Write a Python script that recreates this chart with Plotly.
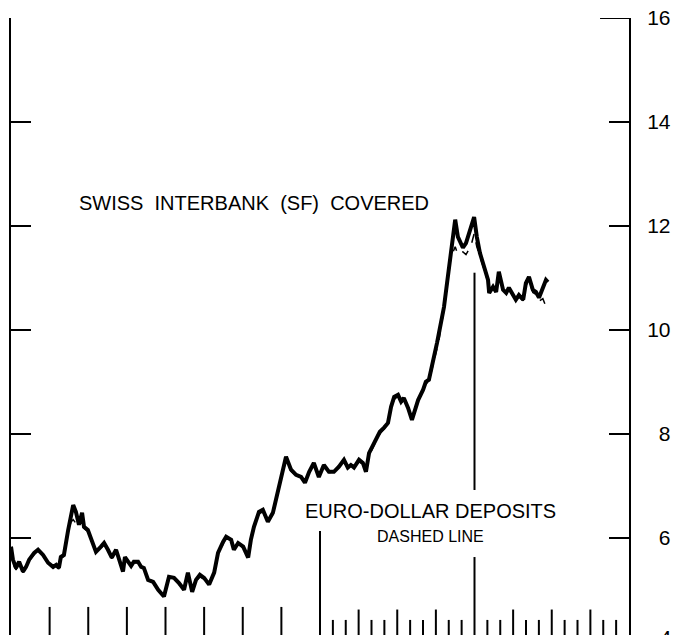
import plotly.graph_objects as go

# time axis: one unit per major (annual) bottom tick
t = [0.00, 0.05, 0.13, 0.21, 0.31, 0.39, 0.47, 0.60, 0.70, 0.83, 0.96, 1.09, 1.17, 1.24, 1.29, 1.37,
     1.48, 1.55, 1.61, 1.68, 1.76, 1.84, 1.89, 1.99, 2.12, 2.20, 2.33, 2.41, 2.51, 2.61, 2.72, 2.80,
     2.90, 2.95, 3.03, 3.11, 3.18, 3.29, 3.37, 3.44, 3.55, 3.68, 3.81, 3.88, 3.96, 4.09, 4.22, 4.35,
     4.48, 4.58, 4.69, 4.79, 4.89, 5.00, 5.13, 5.26, 5.36, 5.49, 5.57, 5.70, 5.77, 5.88, 6.01, 6.14,
     6.21, 6.29, 6.42, 6.52, 6.65, 6.78, 6.86, 6.99, 7.12, 7.25, 7.38, 7.51, 7.61, 7.72, 7.84, 7.97,
     8.10, 8.23, 8.36, 8.49, 8.62, 8.72, 8.80, 8.88, 9.01, 9.11, 9.19, 9.27, 9.37, 9.45, 9.55, 9.66,
     9.76, 9.84, 9.92, 10.02, 10.10, 10.17, 10.28, 10.38, 10.46, 10.54, 10.67, 10.74, 10.82, 10.90,
     10.95, 11.03, 11.08, 11.13, 11.21, 11.31, 11.39, 11.50, 11.57, 11.70, 11.78, 11.91, 11.99, 12.06,
     12.14, 12.25, 12.35, 12.38, 12.48, 12.56, 12.63, 12.74, 12.82, 12.89, 13.00, 13.07, 13.15, 13.26,
     13.33, 13.41, 13.51, 13.59, 13.67, 13.77, 13.85, 13.90]

swiss_covered = [5.83, 5.58, 5.42, 5.54, 5.35, 5.44, 5.58, 5.71, 5.77, 5.67, 5.52, 5.44, 5.48, 5.42, 5.63, 5.67,
                 6.15, 6.40, 6.63, 6.50, 6.25, 6.48, 6.21, 6.15, 5.90, 5.73, 5.83, 5.90, 5.77, 5.62, 5.77, 5.58,
                 5.35, 5.63, 5.54, 5.46, 5.54, 5.54, 5.44, 5.42, 5.19, 5.15, 5.00, 4.94, 4.87, 5.25, 5.23, 5.13,
                 5.00, 5.33, 4.96, 5.19, 5.29, 5.23, 5.10, 5.33, 5.71, 5.92, 6.02, 5.96, 5.77, 5.90, 5.83, 5.62,
                 5.96, 6.21, 6.50, 6.54, 6.31, 6.48, 6.73, 7.17, 7.56, 7.31, 7.21, 7.17, 7.06, 7.27, 7.44, 7.17,
                 7.40, 7.27, 7.27, 7.37, 7.50, 7.35, 7.40, 7.35, 7.50, 7.44, 7.27, 7.63, 7.79, 7.88, 8.04, 8.12,
                 8.21, 8.52, 8.71, 8.75, 8.62, 8.69, 8.50, 8.27, 8.46, 8.65, 8.85, 9.00, 9.04, 9.29,
                 9.48, 9.75, 9.94, 10.13, 10.44, 11.02, 11.48, 12.12, 11.79, 11.58, 11.67, 11.98, 12.17, 11.79,
                 11.48, 11.21, 10.96, 10.71, 10.83, 10.73, 11.12, 10.77, 10.71, 10.81, 10.67, 10.58, 10.67, 10.58,
                 10.90, 11.02, 10.77, 10.73, 10.62, 10.83, 10.96, 10.92]

euro_dollar = [5.80, 5.50, 5.38, 5.50, 5.33, 5.42, 5.55, 5.68, 5.75, 5.65, 5.50, 5.42, 5.46, 5.40, 5.60, 5.65,
               6.10, 6.30, 6.35, 6.28, 6.20, 6.40, 6.18, 6.12, 5.88, 5.72, 5.80, 5.88, 5.75, 5.60, 5.75, 5.56,
               5.38, 5.60, 5.52, 5.45, 5.52, 5.52, 5.42, 5.40, 5.22, 5.12, 5.02, 4.96, 4.92, 5.20, 5.25, 5.10,
               5.05, 5.28, 5.00, 5.15, 5.25, 5.20, 5.12, 5.30, 5.68, 5.90, 6.00, 5.94, 5.78, 5.88, 5.80, 5.65,
               5.92, 6.18, 6.46, 6.50, 6.30, 6.45, 6.70, 7.12, 7.50, 7.28, 7.20, 7.15, 7.08, 7.25, 7.40, 7.18,
               7.36, 7.25, 7.28, 7.35, 7.46, 7.33, 7.38, 7.36, 7.46, 7.42, 7.30, 7.58, 7.75, 7.86, 8.00, 8.10,
               8.18, 8.48, 8.66, 8.72, 8.58, 8.66, 8.52, 8.30, 8.44, 8.62, 8.82, 8.96, 9.00, 9.25,
               9.42, 9.65, 9.80, 10.05, 10.38, 10.95, 11.40, 11.60, 11.45, 11.50, 11.45, 11.62, 11.85, 11.60,
               11.40, 11.15, 10.92, 10.70, 10.80, 10.70, 11.05, 10.74, 10.70, 10.78, 10.64, 10.56, 10.64, 10.56,
               10.85, 10.95, 10.72, 10.68, 10.55, 10.60, 10.45, 10.50]

FS = "\u2007"  # figure space, keeps labels right-aligned like the original
y_ticks = [6, 8, 10, 12, 14, 16]
y_tick_labels = [FS + "6", FS + "8", "10", "12", "14", "16"]
bottom_label_text = FS + "4"   # the "4" label of the axis, cut by the bottom edge

annual_ticks = [1, 2, 3, 4, 5, 6, 7]
divider_ticks = [8, 12]
sub_tall_ticks = [9, 10, 11, 13, 14, 15]
sub_short_ticks = [8 + k / 3 for k in range(1, 24) if k % 3 != 0]

FONT = "Liberation Sans, Arial, Helvetica, sans-serif"

fig = go.Figure()
fig.add_trace(go.Scatter(x=t, y=euro_dollar, mode="lines", name="Euro-dollar deposits",
                         line=dict(color="black", width=1.5, dash="dash")))
fig.add_trace(go.Scatter(x=t, y=swiss_covered, mode="lines", name="Swiss interbank (SF) covered",
                         line=dict(color="black", width=4)))

shapes = []
tick_line = dict(color="black", width=2)
for x in annual_ticks:
    shapes.append(dict(type="line", xref="x", yref="y", x0=x, x1=x, y0=4.0, y1=4.67, line=tick_line))
for x in sub_tall_ticks:
    shapes.append(dict(type="line", xref="x", yref="y", x0=x, x1=x, y0=4.0, y1=4.62, line=tick_line))
for x in sub_short_ticks:
    shapes.append(dict(type="line", xref="x", yref="y", x0=x, x1=x, y0=4.0, y1=4.42, line=tick_line))
# divider lines
shapes.append(dict(type="line", xref="x", yref="y", x0=divider_ticks[0], x1=divider_ticks[0],
                   y0=4.0, y1=6.13, line=tick_line))
shapes.append(dict(type="line", xref="x", yref="y", x0=divider_ticks[1], x1=divider_ticks[1],
                   y0=6.92, y1=11.10, line=tick_line))
shapes.append(dict(type="line", xref="x", yref="y", x0=divider_ticks[1], x1=divider_ticks[1],
                   y0=4.0, y1=5.63, line=tick_line))
# longer top ticks at 16
shapes.append(dict(type="line", xref="x", yref="y", x0=0, x1=0.78, y0=16.06, y1=16.06, line=tick_line))
shapes.append(dict(type="line", xref="x", yref="y", x0=15.25, x1=16, y0=16, y1=16, line=tick_line))

NB = "\u00a0"
annotations = [
    dict(x=6.29, y=12.44, xref="x", yref="y", showarrow=False,
         text=f"SWISS{NB*2}INTERBANK{NB*2}(SF){NB*2}COVERED",
         font=dict(family=FONT, size=20, color="black")),
    dict(x=10.86, y=6.52, xref="x", yref="y", showarrow=False,
         text="EURO-DOLLAR DEPOSITS", font=dict(family=FONT, size=20, color="black")),
    dict(x=10.87, y=6.02, xref="x", yref="y", showarrow=False,
         text="DASHED LINE", font=dict(family=FONT, size=16, color="black")),
    dict(x=1, y=0, xref="paper", yref="paper", xanchor="left", yanchor="middle",
         xshift=17, yshift=-2, showarrow=False, text=bottom_label_text,
         font=dict(family=FONT, size=21, color="black")),
]

fig.update_layout(
    width=675, height=635,
    margin=dict(l=11, r=46, t=18, b=0),
    paper_bgcolor="white", plot_bgcolor="white",
    showlegend=False,
    shapes=shapes,
    annotations=annotations,
    xaxis=dict(range=[0, 16], showgrid=False, zeroline=False, showline=False,
               showticklabels=False, ticks=""),
    yaxis=dict(range=[4.13, 16.0], side="right", showgrid=False, zeroline=False,
               showline=True, linecolor="black", linewidth=2, mirror="ticks",
               ticks="inside", ticklen=20, tickwidth=2, tickcolor="black",
               tickvals=y_ticks, ticktext=y_tick_labels, ticklabelstandoff=12,
               ticklabeloverflow="allow",
               tickfont=dict(family=FONT, size=21, color="black")),
)

# remove the default page margin so the 675x635 figure fills the window exactly
fig.write_html("out.html", config={"displayModeBar": False},
               post_script="document.body.style.margin='0';document.body.style.overflow='hidden';")
